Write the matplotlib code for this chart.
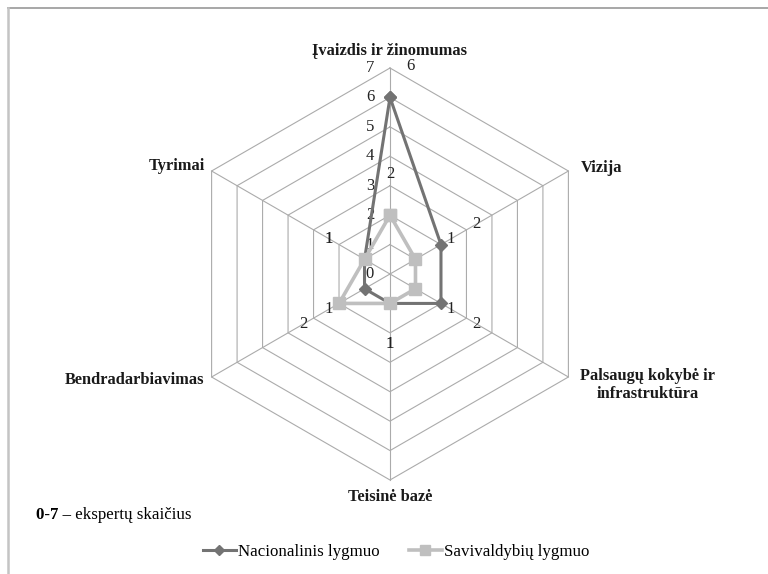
import numpy as np
import matplotlib
matplotlib.use("Agg")
import matplotlib.pyplot as plt
from matplotlib.lines import Line2D

plt.rcParams['font.family'] = ['Liberation Serif', 'DejaVu Serif']

# ---- data ----
categories = ["Įvaizdis ir žinomumas", "Vizija", "Palsaugų kokybė ir\ninfrastruktūra",
              "Teisinė bazė", "Bendradarbiavimas", "Tyrimai"]
nacionalinis = [6, 2, 2, 1, 1, 1]
savivaldybiu = [2, 1, 1, 1, 2, 1]
series_names = ["Nacionalinis lygmuo", "Savivaldybių lygmuo"]
r_ticks = [0, 1, 2, 3, 4, 5, 6, 7]
note_bold = "0-7 –"
note_text = " ekspertų skaičius"

W, H, DPI = 768, 574, 100
fig = plt.figure(figsize=(W / DPI, H / DPI), dpi=DPI)

cx, cy, R = 390, 274, 206
ax = fig.add_axes([(cx - R) / W, (H - cy - R) / H, 2 * R / W, 2 * R / H], projection='polar')
ax.set_theta_zero_location('N')
ax.set_theta_direction(-1)
ax.set_ylim(0, 7)
ax.axis('off')

n = len(categories)
theta = np.arange(n) * 2 * np.pi / n
theta_c = np.append(theta, theta[0])

grid_col = '#ababab'
# hexagonal grid rings
for r in r_ticks[1:]:
    ax.plot(theta_c, [r] * (n + 1), color=grid_col, lw=0.8, zorder=1, clip_on=False)
# spokes
for t in theta:
    ax.plot([t, t], [0, r_ticks[-1]], color=grid_col, lw=0.8, zorder=1, clip_on=False)

NUM_FS = 12
# radial tick labels
for r in r_ticks:
    ax.annotate(str(r), (0, r), xytext=(-20, 0), textcoords='offset pixels',
                ha='center', va='center', fontsize=NUM_FS, color='#222222', annotation_clip=False)

colors = ['#737373', '#bfbfbf']
markers = ['D', 's']
msizes = [6, 8]
lws = [2.2, 2.6]
data = [nacionalinis, savivaldybiu]
handles = []
for i, vals in enumerate(data):
    v = np.append(vals, vals[0])
    h, = ax.plot(theta_c, v, color=colors[i], lw=lws[i], marker=markers[i], ms=msizes[i],
                 mec=colors[i], mfc=colors[i], zorder=3 + i, clip_on=False, label=series_names[i])
    handles.append(h)

# data labels
overrides = {(0, 0): (20, 31)}
for i, vals in enumerate(data):
    for j, (t, v) in enumerate(zip(theta, vals)):
        off = overrides.get((i, j), (41 * np.sin(t), 41 * np.cos(t)))
        ax.annotate(str(v), (t, v), xytext=off, textcoords='offset pixels',
                    ha='center', va='center', fontsize=NUM_FS, color='#222222',
                    annotation_clip=False, zorder=6)

# category labels
cat_offsets = [(0, 17, 'center', 'center'), (12, 3, 'left', 'center'), (12, -8, 'left', 'center'),
               (0, -17, 'center', 'center'), (-7, -3, 'right', 'center'), (-7, 5, 'right', 'center')]
for j, (t, name) in enumerate(zip(theta, categories)):
    dx, dy, ha, va = cat_offsets[j]
    ax.annotate(name, (t, r_ticks[-1]), xytext=(dx, dy), textcoords='offset pixels',
                ha=ha, va=va, fontsize=11.8, fontweight='bold', color='#1a1a1a',
                multialignment='center', annotation_clip=False, linespacing=1.15)

# note text
tb = fig.text(36 / W, 1 - 515 / H, note_bold, fontsize=12.2, fontweight='bold', va='center', ha='left')
fig.canvas.draw()
bb = tb.get_window_extent()
fig.text(bb.x1 / W, 1 - 515 / H, note_text, fontsize=12.2, va='center', ha='left')

# legend
fig.legend(handles=handles, loc='center', bbox_to_anchor=(396 / W, 1 - 552 / H), ncol=2,
           frameon=False, fontsize=12.2, handlelength=2.0, columnspacing=1.7, handletextpad=0.1,
           markerscale=0.85)

# outer frame lines
fig.add_artist(Line2D([8 / W, 1], [1 - 8 / H, 1 - 8 / H], color='#a0a0a0', lw=1.3, transform=fig.transFigure))
fig.add_artist(Line2D([7.5 / W, 7.5 / W], [1 - 8 / H, 0], color='#c4c4c4', lw=1.8, transform=fig.transFigure))

fig.savefig('out.png', dpi=DPI)
